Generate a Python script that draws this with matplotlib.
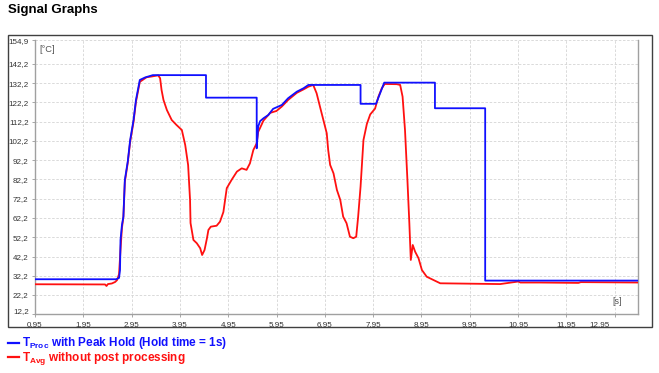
import matplotlib.pyplot as plt
import matplotlib.transforms as mtransforms
from matplotlib.patches import Rectangle

plt.rcParams['font.family'] = ['Liberation Sans', 'DejaVu Sans']
plt.rcParams['mathtext.fontset'] = 'custom'
plt.rcParams['mathtext.rm'] = 'Liberation Sans'
plt.rcParams['mathtext.bf'] = 'Liberation Sans:bold'

# T_Proc with peak hold (s, degC)
proc_t = [0.95, 2.63, 2.69, 2.71, 2.72, 2.75, 2.78, 2.81, 2.87, 2.92, 2.99, 3.04,
          3.12, 3.23, 3.39, 4.49, 4.49, 5.54, 5.54, 5.57, 5.61, 5.68, 5.78, 5.88,
          6.06, 6.19, 6.37, 6.51, 6.61, 7.69, 7.69, 8.01, 8.18, 9.23, 9.23,
          10.27, 10.27, 13.43]
proc_v = [30.4, 30.4, 31.1, 35.2, 50.8, 58.6, 62.9, 82.0, 91.5, 102.7, 113.1, 123.5,
          133.9, 135.2, 136.4, 136.4, 124.7, 124.7, 98.4, 109.7, 112.5, 114.0, 115.7, 118.9,
          120.9, 124.4, 127.8, 129.6, 131.3, 131.3, 121.5, 121.5, 132.5, 132.5, 119.2,
          119.2, 29.7, 29.7]

# T_Avg without post processing (s, degC)
avg_t = [0.95, 2.40, 2.43, 2.46, 2.54, 2.61, 2.65, 2.69, 2.72, 2.75, 2.78, 2.81,
         2.87, 2.92, 2.99, 3.04, 3.12, 3.26, 3.37, 3.50, 3.54, 3.57, 3.61, 3.68,
         3.78, 3.88, 3.99, 4.06, 4.12, 4.16, 4.17, 4.23, 4.30, 4.37, 4.41, 4.46,
         4.51, 4.54, 4.59, 4.71, 4.78, 4.85, 4.92, 5.02, 5.13, 5.23, 5.33, 5.40,
         5.47, 5.54, 5.57, 5.61, 5.68, 5.82, 5.95, 6.06, 6.19, 6.37, 6.51, 6.61,
         6.71, 6.78, 6.85, 6.92, 6.99, 7.02, 7.06, 7.13, 7.20, 7.27, 7.33, 7.40,
         7.47, 7.54, 7.60, 7.64, 7.69, 7.75, 7.82, 7.89, 7.99, 8.06, 8.13, 8.19,
         8.44, 8.51, 8.56, 8.61, 8.66, 8.70, 8.73, 8.77, 8.82, 8.89, 8.96, 9.06,
         9.20, 9.34, 10.58, 10.95, 11.00, 11.40, 12.20, 12.25, 13.43]
avg_v = [27.8, 27.7, 26.9, 27.9, 28.2, 29.0, 30.0, 33.1, 45.6, 57.0, 62.7, 80.9,
         90.8, 101.7, 112.1, 122.5, 132.9, 135.3, 135.7, 136.3, 134.8, 128.7, 123.5, 118.3,
         113.1, 110.5, 107.9, 100.1, 89.7, 71.6, 59.6, 50.8, 49.1, 46.5, 43.0, 45.6,
         51.7, 56.0, 57.7, 58.2, 60.3, 65.3, 77.7, 82.0, 86.3, 88.0, 87.2, 90.6,
         97.5, 101.0, 106.9, 109.0, 112.8, 116.8, 117.8, 120.1, 123.5, 127.2, 129.0, 130.4,
         131.3, 127.0, 120.0, 113.1, 106.2, 97.5, 89.8, 85.4, 76.8, 71.6, 62.9, 59.5,
         52.5, 51.7, 52.5, 62.9, 78.5, 102.7, 111.0, 116.0, 119.0, 125.2, 129.6, 131.8,
         131.7, 131.3, 125.2, 107.9, 82.0, 59.5, 40.4, 48.2, 44.7, 41.3, 35.2, 31.7,
         30.0, 28.3, 27.9, 29.2, 28.7, 28.7, 28.5, 28.9, 28.7]

x_ticks = [0.95, 1.95, 2.95, 3.95, 4.95, 5.95, 6.95, 7.95, 8.95, 9.95, 10.95, 11.95, 12.95]
y_ticks = [12.2, 22.2, 32.2, 42.2, 52.2, 62.2, 72.2, 82.2, 92.2, 102.2, 112.2, 122.2, 132.2, 142.2, 154.9]

fig = plt.figure(figsize=(6.59, 3.73), dpi=100)
ax = fig.add_axes([35 / 659, 1 - 314.3 / 373, 603.3 / 659, 274.8 / 373])

ax.plot(avg_t, avg_v, color='#ff1010', lw=1.3, zorder=3)
ax.plot(proc_t, proc_v, color='#1010ff', lw=1.3, zorder=4)

ax.set_xlim(0.95, 13.44)
ax.set_ylim(12.2, 154.9)
ax.set_xticks(x_ticks)
ax.set_xticklabels([f'{v:.2f}'.replace('.', ',') for v in x_ticks])
ax.set_yticks(y_ticks)
ax.set_yticklabels([f'{v:.1f}'.replace('.', ',') for v in y_ticks])
ax.tick_params(labelsize=5.8, labelcolor='#333333', color='#999999', length=2.5, width=0.6, pad=2)
ax.grid(True, color='#d4d4d4', lw=0.6, ls=(0, (3, 2)))
ax.set_axisbelow(True)
for s in ['left', 'bottom', 'right']:
    ax.spines[s].set_color('#a0a0a0')
    ax.spines[s].set_linewidth(1.0)
ax.spines['top'].set_visible(False)

# nudge the edge tick labels like the original
dpi = fig.dpi
xl = ax.get_xticklabels()
xl[-1].set_transform(xl[-1].get_transform() + mtransforms.ScaledTranslation(-15 / dpi, 0, fig.dpi_scale_trans))
yl = ax.get_yticklabels()
yl[0].set_transform(yl[0].get_transform() + mtransforms.ScaledTranslation(0, 4 / dpi, fig.dpi_scale_trans))
yl[-1].set_transform(yl[-1].get_transform() + mtransforms.ScaledTranslation(0, -1 / dpi, fig.dpi_scale_trans))

ax.text(39.5 / 659, 1 - 50 / 373, '[°C]', transform=fig.transFigure, fontsize=6.7,
        color='#555555', va='center', ha='left')
ax.text(612 / 659, 1 - 302 / 373, '[s]', transform=fig.transFigure, fontsize=6.4,
        color='#555555', va='center', ha='left')

# outer frame
fig.patches.append(Rectangle((7.5 / 659, 1 - 327 / 373), 644 / 659, 292 / 373,
                             transform=fig.transFigure, fill=False, ec='#404040', lw=1.0))

fig.text(8 / 659, 1 - 13.5 / 373, 'Signal Graphs', fontsize=9.5, fontweight='bold',
         va='baseline', ha='left', color='black')

# legend below the frame
fig.add_artist(plt.Line2D([7.5 / 659, 18.5 / 659], [1 - 342.7 / 373] * 2, color='#1010ff', lw=1.6))
fig.add_artist(plt.Line2D([7.5 / 659, 18.5 / 659], [1 - 357 / 373] * 2, color='#ff1010', lw=1.6))
fig.text(22 / 659, 1 - 346 / 373, r'$\mathbf{T}_{\mathbf{Proc}}$ with Peak Hold (Hold time = 1s)',
         fontsize=8.5, fontweight='bold', color='#1010ff', va='baseline', ha='left')
fig.text(22 / 659, 1 - 360.5 / 373, r'$\mathbf{T}_{\mathbf{Avg}}$ without post processing',
         fontsize=8.5, fontweight='bold', color='#ff1010', va='baseline', ha='left')

fig.savefig('out.png', dpi=100)
